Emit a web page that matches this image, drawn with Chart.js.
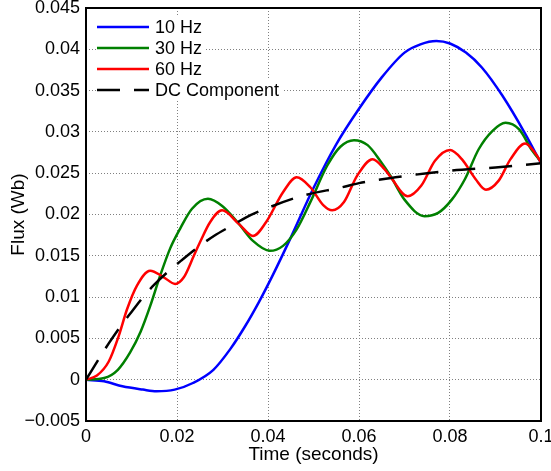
<!DOCTYPE html>
<html>
<head>
<meta charset="utf-8">
<script src="https://cdn.jsdelivr.net/npm/chart.js@4.4.0/dist/chart.umd.min.js"></script>
<style>
  body { margin: 0; background: #fff; }
  #wrap { width: 551px; height: 471px; position: relative; }
</style>
</head>
<body>
<div id="wrap"><canvas id="fluxChart"></canvas></div>
<script>
// values (time in s, flux in Wb)
const time10 = [0, 0.004, 0.008, 0.0125, 0.0155, 0.0195, 0.0235, 0.028, 0.0317, 0.035, 0.038, 0.041, 0.045, 0.05, 0.055, 0.06, 0.065, 0.07, 0.0735, 0.077, 0.08, 0.0835, 0.087, 0.0915, 0.0965, 0.1];
const flux10 = [0, -0.0002, -0.0008, -0.0012, -0.0014, -0.0012, -0.0004, 0.0012, 0.0037, 0.0065, 0.0094, 0.0126, 0.0172, 0.0232, 0.0285, 0.0328, 0.0366, 0.0396, 0.0406, 0.041, 0.0407, 0.0396, 0.0378, 0.0344, 0.0298, 0.0262];

const time30 = [0, 0.004, 0.007, 0.0097, 0.012, 0.0141, 0.0163, 0.0185, 0.0207, 0.0233, 0.0268, 0.03, 0.0337, 0.0367, 0.0404, 0.0433, 0.0463, 0.0493, 0.053, 0.0559, 0.0589, 0.0619, 0.0648, 0.067, 0.07, 0.0744, 0.0774, 0.0804, 0.0833, 0.0863, 0.0893, 0.0922, 0.0952, 0.0981, 0.1];
const flux30 = [0, 0.0002, 0.0012, 0.0033, 0.0058, 0.0089, 0.0126, 0.0159, 0.0183, 0.0207, 0.0219, 0.021, 0.0188, 0.0168, 0.0156, 0.0162, 0.0182, 0.0215, 0.0259, 0.0282, 0.029, 0.0284, 0.0264, 0.0246, 0.0218, 0.0198, 0.0202, 0.0218, 0.0243, 0.0279, 0.0301, 0.0311, 0.0303, 0.0277, 0.0264];

const time60 = [0, 0.0024, 0.005, 0.0072, 0.009, 0.0112, 0.0141, 0.0171, 0.0196, 0.0215, 0.0237, 0.0251, 0.0273, 0.0299, 0.0337, 0.0367, 0.0396, 0.0433, 0.0463, 0.0493, 0.0522, 0.0541, 0.0567, 0.0596, 0.063, 0.0656, 0.067, 0.0707, 0.0737, 0.0767, 0.08, 0.0826, 0.0856, 0.0879, 0.0907, 0.0933, 0.0965, 0.0989, 0.1];
const flux60 = [0, 0.0005, 0.0022, 0.0053, 0.0085, 0.0114, 0.0132, 0.0124, 0.0116, 0.0124, 0.015, 0.0167, 0.0191, 0.0205, 0.0188, 0.0174, 0.0191, 0.0227, 0.0245, 0.0233, 0.0211, 0.0205, 0.0215, 0.0247, 0.0267, 0.0255, 0.0245, 0.0222, 0.0235, 0.0265, 0.0278, 0.0267, 0.0243, 0.023, 0.0241, 0.0267, 0.0286, 0.0273, 0.0263];

const timeDC = [0, 0.0028, 0.005, 0.0075, 0.01, 0.0127, 0.015, 0.0187, 0.0211, 0.025, 0.0281, 0.0325, 0.035, 0.0404, 0.0478, 0.0563, 0.06, 0.068, 0.08, 0.09, 0.1];
const fluxDC = [0, 0.0025, 0.0044, 0.0064, 0.0082, 0.0101, 0.0115, 0.0134, 0.0145, 0.0162, 0.0174, 0.0188, 0.0196, 0.0209, 0.0223, 0.0233, 0.0238, 0.0245, 0.0253, 0.0257, 0.0262];

const seriesLabels = ["10 Hz", "30 Hz", "60 Hz", "DC Component"];
const seriesColors = ["#0000ff", "#008000", "#ff0000", "#000000"];

const xTicks = [0, 0.02, 0.04, 0.06, 0.08, 0.1];
const yMin = -0.005;
const yMax = 0.045;
const yStep = 0.005;

const FONT = '"Liberation Sans", Arial, Helvetica, sans-serif';

function pairs(ts, vs) {
  return ts.map(function (t, i) {
    return { x: t, y: vs[i] };
  });
}

function fmt(v, digits) {
  let s = String(Number(v.toFixed(digits)));
  if (s.charAt(0) === "-") s = "\u2212" + s.slice(1);
  return s;
}

// box around the plot + legend sitting inside the plot area
const boxAndLegend = {
  id: "boxAndLegend",
  afterDraw(chart) {
    const ctx = chart.ctx;
    const a = chart.chartArea;
    ctx.save();
    ctx.strokeStyle = "#000";
    ctx.lineWidth = 2;
    ctx.strokeRect(a.left, a.top, a.right - a.left, a.bottom - a.top);

    ctx.font = "18px " + FONT;
    ctx.textBaseline = "middle";
    chart.data.datasets.forEach(function (ds, i) {
      const y = 27 + i * 21;
      const w = ctx.measureText(ds.label).width;
      ctx.fillStyle = "#fff";
      ctx.fillRect(96, y - 11, 62 + w, 22);
      ctx.strokeStyle = ds.borderColor;
      ctx.lineWidth = 2.5;
      ctx.setLineDash(ds.borderDash || []);
      ctx.beginPath();
      ctx.moveTo(97, y);
      ctx.lineTo(149, y);
      ctx.stroke();
      ctx.setLineDash([]);
      ctx.fillStyle = "#000";
      ctx.fillText(ds.label, 155, y + 1);
    });
    ctx.restore();
  },
};

const ctx = document.getElementById("fluxChart");
const fluxChart = new Chart(ctx, {
  type: "line",
  data: {
    datasets: [
      {
        label: seriesLabels[0],
        data: pairs(time10, flux10),
        borderColor: seriesColors[0],
        order: 4,
      },
      {
        label: seriesLabels[1],
        data: pairs(time30, flux30),
        borderColor: seriesColors[1],
        order: 3,
      },
      {
        label: seriesLabels[2],
        data: pairs(time60, flux60),
        borderColor: seriesColors[2],
        order: 2,
      },
      {
        label: seriesLabels[3],
        data: pairs(timeDC, fluxDC),
        borderColor: seriesColors[3],
        borderDash: [23, 14],
        order: 1,
      },
    ],
  },
  options: {
    responsive: true,
    maintainAspectRatio: false,
    animation: false,
    layout: { padding: { top: 8, right: 10, bottom: 0, left: 0 } },
    elements: {
      point: { radius: 0 },
      line: { borderWidth: 2.5, cubicInterpolationMode: "monotone", fill: false },
    },
    plugins: {
      legend: { display: false },
      tooltip: { enabled: false },
    },
    scales: {
      x: {
        type: "linear",
        min: 0,
        max: 0.1,
        afterBuildTicks(scale) {
          scale.ticks = xTicks.map(function (v) { return { value: v }; });
        },
        afterFit(scale) {
          scale.height = 50;
          scale.paddingLeft = 0;
          scale.paddingRight = 0;
        },
        ticks: {
          color: "#000",
          font: { family: FONT, size: 18 },
          padding: 5,
          maxRotation: 0,
          autoSkip: false,
          callback: function (v) { return fmt(v, 3); },
        },
        grid: { color: "#808080", lineWidth: 1, drawTicks: false },
        border: { display: false, dash: [1, 2] },
        title: {
          display: true,
          text: "Time (seconds)",
          color: "#000",
          font: { family: FONT, size: 19 },
          padding: { top: 0, bottom: 5 },
        },
      },
      y: {
        type: "linear",
        min: yMin,
        max: yMax,
        afterFit(scale) {
          scale.width = 86;
          scale.paddingTop = 0;
          scale.paddingBottom = 0;
        },
        ticks: {
          stepSize: yStep,
          color: "#000",
          font: { family: FONT, size: 18 },
          padding: 6,
          callback: function (v) { return fmt(v, 4); },
        },
        grid: { color: "#808080", lineWidth: 1, drawTicks: false },
        border: { display: false, dash: [1, 2] },
        title: {
          display: true,
          text: "Flux (Wb)",
          color: "#000",
          font: { family: FONT, size: 19 },
          padding: { top: 7, bottom: 0 },
        },
      },
    },
  },
  plugins: [boxAndLegend],
});
</script>
</body>
</html>
